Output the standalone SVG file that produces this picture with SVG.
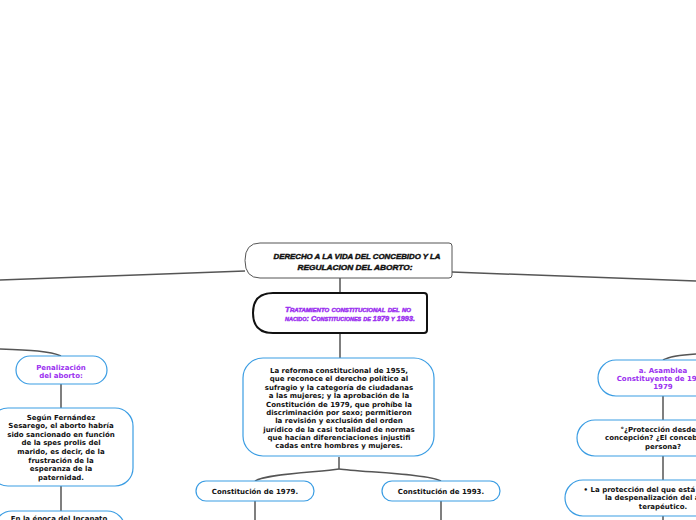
<svg xmlns="http://www.w3.org/2000/svg" width="696" height="520" viewBox="0 0 696 520">
<style>
.conn{fill:none;stroke:#555;stroke-width:1.5}
.blue{fill:#fff;stroke:#3b9de3;stroke-width:1.2}
.t{font-family:"DejaVu Sans","Verdana",sans-serif;font-weight:bold;font-size:7px;fill:#111;text-anchor:middle}
.p{fill:#9b30f0}
.fancy{font-family:"Liberation Sans","Arial",sans-serif;font-weight:900;font-style:italic;text-anchor:middle;stroke-width:0.45}
</style>
<rect width="696" height="520" fill="#fff"/>
<g id="connectors">
<path class="conn" d="M245,271 L0,280"/>
<path class="conn" d="M452,272 L696,281"/>
<path class="conn" d="M340,278 L340,293"/>
<path class="conn" d="M340,334 L340,358"/>
<path class="conn" d="M339,457 L339,469"/>
<path class="conn" d="M339,469 C320,472 265,474 255,481"/>
<path class="conn" d="M339,469 C360,472 430,474 441,481"/>
<path class="conn" d="M255,501 L255,520"/>
<path class="conn" d="M441,501 L441,520"/>
<path class="conn" d="M0,349 C30,350 50,351 61,356"/>
<path class="conn" d="M61,384 L61,408"/>
<path class="conn" d="M61,486 L61,511"/>
<path class="conn" d="M696,354 C680,355 670,356 663,360"/>
<path class="conn" d="M663,396 L663,420"/>
<path class="conn" d="M663,456 L663,480"/>
<path class="conn" d="M663,516 L663,520"/>
</g>
<g id="root">
<path d="M260,243 L449,243 Q452,243 452,246 L452,275 Q452,278 449,278 L260,278 Q245,278 245,260.5 Q245,243 260,243 Z" fill="#fff" stroke="#555" stroke-width="1"/>
<text class="fancy" x="357" y="259" font-size="8" textLength="167" lengthAdjust="spacingAndGlyphs" fill="#111" stroke="#111">DERECHO A LA VIDA DEL CONCEBIDO Y LA</text>
<text class="fancy" x="355" y="270" font-size="8" textLength="115" lengthAdjust="spacingAndGlyphs" fill="#111" stroke="#111">REGULACION DEL ABORTO:</text>
</g>
<g id="tratamiento">
<path d="M273,293 L424,293 Q427,293 427,296 L427,330 Q427,333 424,333 L273,333 Q253,333 253,313 Q253,293 273,293 Z" fill="#fff" stroke="#111" stroke-width="2"/>
<text class="fancy p" x="348" y="312" font-size="8" font-variant="small-caps" textLength="126" lengthAdjust="spacingAndGlyphs" stroke="#9b30f0">Tratamiento constitucional del no</text>
<text class="fancy p" x="350" y="321" font-size="8" font-variant="small-caps" textLength="130" lengthAdjust="spacingAndGlyphs" stroke="#9b30f0">nacido: Constituciones de 1979 y 1993.</text>
</g>
<g id="reforma">
<rect class="blue" x="243" y="358" width="191" height="98" rx="20"/>
<text class="t" x="339" y="373">La reforma constitucional de 1955,</text>
<text class="t" x="339" y="381.4">que reconoce el derecho político al</text>
<text class="t" x="339" y="389.8">sufragio y la categoría de ciudadanas</text>
<text class="t" x="339" y="398.1">a las mujeres; y la aprobación de la</text>
<text class="t" x="339" y="406.5">Constitución de 1979, que prohíbe la</text>
<text class="t" x="339" y="414.8">discriminación por sexo; permitieron</text>
<text class="t" x="339" y="423.2">la revisión y exclusión del orden</text>
<text class="t" x="339" y="431.5">jurídico de la casi totalidad de normas</text>
<text class="t" x="339" y="439.9">que hacían diferenciaciones injustifi</text>
<text class="t" x="339" y="448.2">cadas entre hombres y mujeres.</text>
</g>
<g id="c1979">
<rect class="blue" x="196" y="481" width="118" height="20" rx="10"/>
<text class="t" x="255" y="493.5">Constitución de 1979.</text>
</g>
<g id="c1993">
<rect class="blue" x="382" y="481" width="118" height="20" rx="10"/>
<text class="t" x="441" y="493.5">Constitución de 1993.</text>
</g>
<g id="penalizacion">
<rect class="blue" x="16" y="356" width="91" height="28" rx="14"/>
<text class="t p" x="61" y="369.5">Penalización</text>
<text class="t p" x="61" y="377.5">del aborto:</text>
</g>
<g id="fernandez">
<rect class="blue" x="-10" y="408" width="143" height="78" rx="18"/>
<text class="t" x="61" y="419.5">Según Fernández</text>
<text class="t" x="61" y="428.1">Sesarego, el aborto habría</text>
<text class="t" x="61" y="436.7">sido sancionado en función</text>
<text class="t" x="61" y="445.3">de la spes prolis del</text>
<text class="t" x="61" y="453.9">marido, es decir, de la</text>
<text class="t" x="61" y="462.5">frustración de la</text>
<text class="t" x="61" y="471.1">esperanza de la</text>
<text class="t" x="61" y="479.7">paternidad.</text>
</g>
<g id="incanato">
<rect class="blue" x="-6" y="511" width="131" height="40" rx="18"/>
<text class="t" x="59" y="521">En la época del Incanato</text>
</g>
<g id="asamblea">
<rect class="blue" x="598" y="360" width="130" height="36" rx="18"/>
<text class="t p" x="663" y="372.5">a. Asamblea</text>
<text class="t p" x="663" y="380.8">Constituyente de 1978-</text>
<text class="t p" x="663" y="389.1">1979</text>
</g>
<g id="proteccion">
<rect class="blue" x="577" y="420" width="172" height="36" rx="18"/>
<text class="t" x="663" y="431.5">°¿Protección desde la</text>
<text class="t" x="663" y="440.3">concepción? ¿El concebido es</text>
<text class="t" x="663" y="449.1">persona?</text>
</g>
<g id="despenalizacion">
<rect class="blue" x="565" y="480" width="196" height="36" rx="18"/>
<text class="t" x="663" y="491.5">• La protección del que está por nacer y</text>
<text class="t" x="663" y="500.3">la despenalización del aborto</text>
<text class="t" x="663" y="509.1">terapéutico.</text>
</g>
</svg>
